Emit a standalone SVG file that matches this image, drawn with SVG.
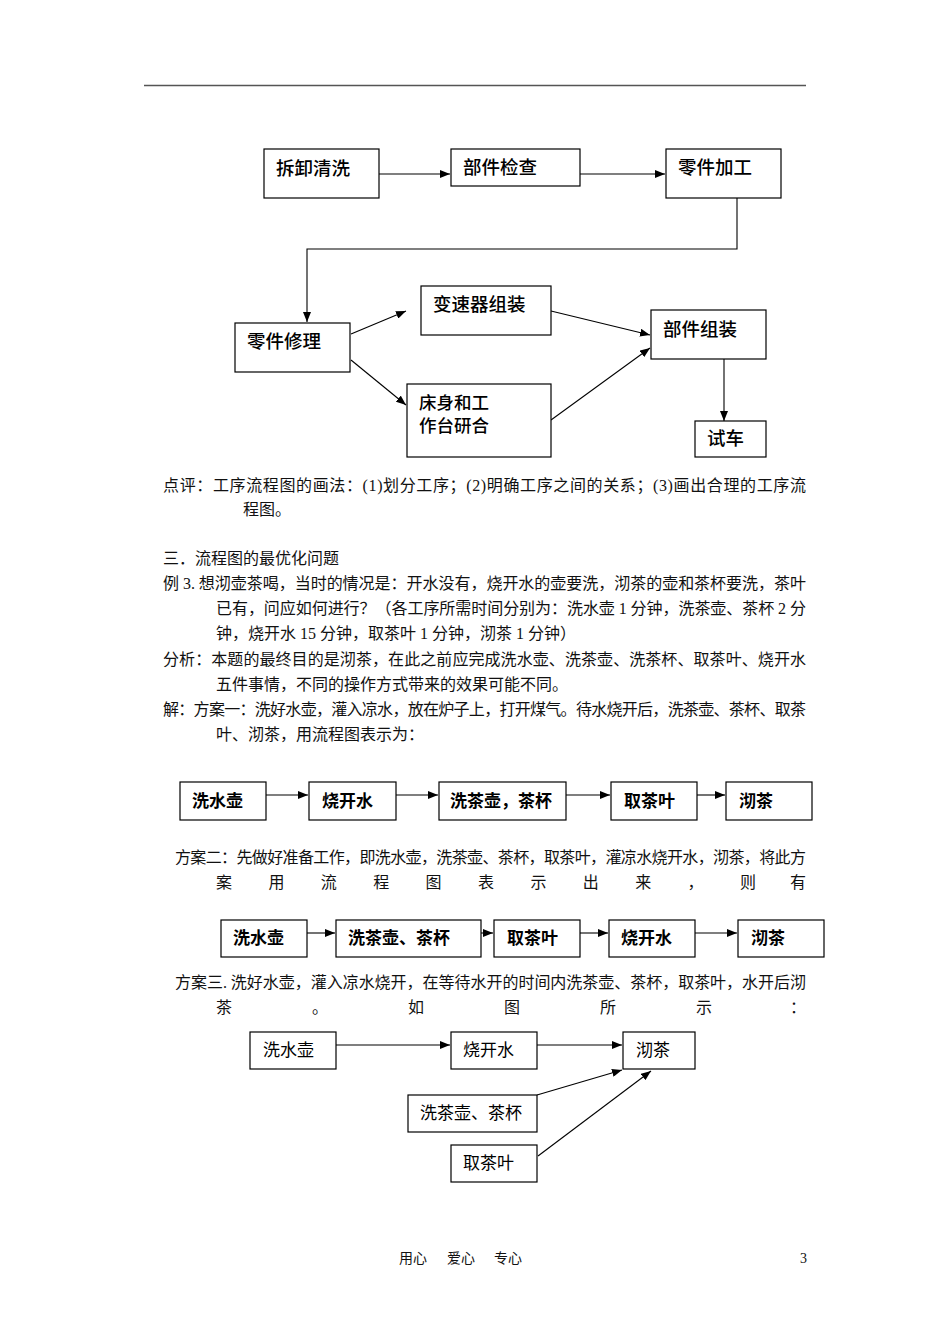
<svg xmlns="http://www.w3.org/2000/svg" width="950" height="1344" viewBox="0 0 950 1344">
<defs>
<style>
.bx{fill:#fff;stroke:#000;stroke-width:1.2}
.ln{fill:none;stroke:#000;stroke-width:1.1}
.t1{font-family:"Noto Sans CJK SC","Liberation Sans",sans-serif;font-size:18.5px;font-weight:500;fill:#000}
.t1s{font-family:"Noto Sans CJK SC","Liberation Sans",sans-serif;font-size:17.5px;font-weight:500;fill:#000}
.t2{font-family:"Noto Sans CJK SC","Liberation Sans",sans-serif;font-size:17px;font-weight:bold;fill:#000}
.t3{font-family:"Noto Sans CJK SC","Liberation Sans",sans-serif;font-size:17px;font-weight:normal;fill:#000}
.p{font-family:"Liberation Serif","Noto Sans CJK SC",serif;font-size:16px;fill:#111}
.f{font-family:"Liberation Serif","Noto Sans CJK SC",serif;font-size:14px;fill:#111}
</style>
<marker id="ah" markerWidth="10" markerHeight="8" refX="10" refY="4" orient="auto" markerUnits="userSpaceOnUse">
<path d="M0,0 L10,4 L0,8 z" fill="#000"/>
</marker>
</defs>
<rect width="950" height="1344" fill="#fff"/>
<line x1="144" y1="85.5" x2="806" y2="85.5" stroke="#555" stroke-width="1.6"/>

<!-- top diagram -->
<g id="connectors-top">
<line class="ln" x1="379" y1="174" x2="450" y2="174" marker-end="url(#ah)"/>
<line class="ln" x1="580" y1="174" x2="665" y2="174" marker-end="url(#ah)"/>
<polyline class="ln" points="737,198 737,249 307,249 307,322" marker-end="url(#ah)"/>
<line class="ln" x1="351" y1="334" x2="406" y2="311" marker-end="url(#ah)"/>
<line class="ln" x1="351" y1="360" x2="406" y2="405" marker-end="url(#ah)"/>
<line class="ln" x1="551" y1="311" x2="650" y2="335" marker-end="url(#ah)"/>
<line class="ln" x1="551" y1="420" x2="650" y2="348" marker-end="url(#ah)"/>
<line class="ln" x1="724" y1="359" x2="724" y2="421" marker-end="url(#ah)"/>
</g>
<g id="n-chaixie"><rect class="bx" x="264" y="149" width="115" height="49"/><text class="t1" x="276" y="175">拆卸清洗</text></g>
<g id="n-bujianjiancha"><rect class="bx" x="451" y="149" width="129" height="37"/><text class="t1" x="463" y="174">部件检查</text></g>
<g id="n-lingjianjiagong"><rect class="bx" x="666" y="149" width="115" height="49"/><text class="t1" x="678" y="174">零件加工</text></g>
<g id="n-lingjianxiuli"><rect class="bx" x="235" y="323" width="115" height="49"/><text class="t1" x="247" y="348">零件修理</text></g>
<g id="n-biansuqi"><rect class="bx" x="421" y="286" width="130" height="49"/><text class="t1" x="433" y="311">变速器组装</text></g>
<g id="n-chuangshen"><rect class="bx" x="407" y="384" width="144" height="73"/><text class="t1s" x="419" y="409">床身和工</text><text class="t1s" x="419" y="432">作台研合</text></g>
<g id="n-bujianzuzhuang"><rect class="bx" x="651" y="310" width="115" height="49"/><text class="t1" x="663" y="336">部件组装</text></g>
<g id="n-shiche"><rect class="bx" x="695" y="421" width="71" height="36"/><text class="t1" x="707" y="445">试车</text></g>

<!-- paragraphs -->
<g id="text">
<text class="p" x="163" y="491" textLength="643" lengthAdjust="spacing">点评：工序流程图的画法：(1)划分工序；(2)明确工序之间的关系；(3)画出合理的工序流</text>
<text class="p" x="243" y="515">程图。</text>
<text class="p" x="163" y="564">三．流程图的最优化问题</text>
<text class="p" x="163" y="589" textLength="643" lengthAdjust="spacing">例 3. 想沏壶茶喝，当时的情况是：开水没有，烧开水的壶要洗，沏茶的壶和茶杯要洗，茶叶</text>
<text class="p" x="216" y="614" textLength="590" lengthAdjust="spacing">已有，问应如何进行？（各工序所需时间分别为：洗水壶 1 分钟，洗茶壶、茶杯 2 分</text>
<text class="p" x="216" y="639">钟，烧开水 15 分钟，取茶叶 1 分钟，沏茶 1 分钟）</text>
<text class="p" x="163" y="665" textLength="643" lengthAdjust="spacing">分析：本题的最终目的是沏茶，在此之前应完成洗水壶、洗茶壶、洗茶杯、取茶叶、烧开水</text>
<text class="p" x="216" y="690">五件事情，不同的操作方式带来的效果可能不同。</text>
<text class="p" x="163" y="715" textLength="643" lengthAdjust="spacing">解：方案一：洗好水壶，灌入凉水，放在炉子上，打开煤气。待水烧开后，洗茶壶、茶杯、取茶</text>
<text class="p" x="216" y="740">叶、沏茶，用流程图表示为：</text>
<text class="p" x="175" y="863" textLength="631" lengthAdjust="spacing">方案二：先做好准备工作，即洗水壶，洗茶壶、茶杯，取茶叶，灌凉水烧开水，沏茶，将此方</text>
<text class="p" y="888"><tspan x="216">案</tspan><tspan x="268.4">用</tspan><tspan x="320.8">流</tspan><tspan x="373.2">程</tspan><tspan x="425.6">图</tspan><tspan x="478">表</tspan><tspan x="530.4">示</tspan><tspan x="582.8">出</tspan><tspan x="635.2">来</tspan><tspan x="687.6">，</tspan><tspan x="740">则</tspan><tspan x="790">有</tspan></text>
<text class="p" x="175" y="988" textLength="631" lengthAdjust="spacing">方案三. 洗好水壶，灌入凉水烧开，在等待水开的时间内洗茶壶、茶杯，取茶叶，水开后沏</text>
<text class="p" y="1013"><tspan x="216">茶</tspan><tspan x="312">。</tspan><tspan x="408">如</tspan><tspan x="504">图</tspan><tspan x="600">所</tspan><tspan x="696">示</tspan><tspan x="790">：</tspan></text>
</g>

<!-- flowchart 1 -->
<g id="connectors-fc1">
<line class="ln" x1="266" y1="795" x2="308" y2="795" marker-end="url(#ah)"/>
<line class="ln" x1="396" y1="795" x2="438" y2="795" marker-end="url(#ah)"/>
<line class="ln" x1="566" y1="795" x2="610" y2="795" marker-end="url(#ah)"/>
<line class="ln" x1="697" y1="795" x2="725" y2="795" marker-end="url(#ah)"/>
</g>
<g id="a1"><rect class="bx" x="180" y="782" width="86" height="38"/><text class="t2" x="192" y="807">洗水壶</text></g>
<g id="a2"><rect class="bx" x="309" y="782" width="87" height="38"/><text class="t2" x="322" y="807">烧开水</text></g>
<g id="a3"><rect class="bx" x="439" y="782" width="127" height="38"/><text class="t2" x="450" y="807">洗茶壶，茶杯</text></g>
<g id="a4"><rect class="bx" x="611" y="782" width="86" height="38"/><text class="t2" x="624" y="807">取茶叶</text></g>
<g id="a5"><rect class="bx" x="726" y="782" width="86" height="38"/><text class="t2" x="739" y="807">沏茶</text></g>

<!-- flowchart 2 -->
<g id="connectors-fc2">
<line class="ln" x1="307" y1="933" x2="335" y2="933" marker-end="url(#ah)"/>
<line class="ln" x1="481" y1="933" x2="493" y2="933" marker-end="url(#ah)"/>
<line class="ln" x1="580" y1="933" x2="608" y2="933" marker-end="url(#ah)"/>
<line class="ln" x1="695" y1="933" x2="737" y2="933" marker-end="url(#ah)"/>
</g>
<g id="b1"><rect class="bx" x="221" y="920" width="86" height="37"/><text class="t2" x="233" y="944">洗水壶</text></g>
<g id="b2"><rect class="bx" x="336" y="920" width="145" height="37"/><text class="t2" x="348" y="944">洗茶壶、茶杯</text></g>
<g id="b3"><rect class="bx" x="494" y="920" width="86" height="37"/><text class="t2" x="507" y="944">取茶叶</text></g>
<g id="b4"><rect class="bx" x="609" y="920" width="86" height="37"/><text class="t2" x="621" y="944">烧开水</text></g>
<g id="b5"><rect class="bx" x="738" y="920" width="86" height="37"/><text class="t2" x="751" y="944">沏茶</text></g>

<!-- flowchart 3 -->
<g id="connectors-fc3">
<line class="ln" x1="336" y1="1045" x2="450" y2="1045" marker-end="url(#ah)"/>
<line class="ln" x1="537" y1="1045" x2="622" y2="1045" marker-end="url(#ah)"/>
<line class="ln" x1="537" y1="1095" x2="622" y2="1070" marker-end="url(#ah)"/>
<line class="ln" x1="538" y1="1156" x2="651" y2="1071" marker-end="url(#ah)"/>
</g>
<g id="c1"><rect class="bx" x="250" y="1032" width="86" height="37"/><text class="t3" x="263" y="1056">洗水壶</text></g>
<g id="c2"><rect class="bx" x="451" y="1032" width="86" height="37"/><text class="t3" x="463" y="1056">烧开水</text></g>
<g id="c3"><rect class="bx" x="623" y="1032" width="72" height="37"/><text class="t3" x="636" y="1056">沏茶</text></g>
<g id="c4"><rect class="bx" x="408" y="1095" width="129" height="37"/><text class="t3" x="420" y="1119">洗茶壶、茶杯</text></g>
<g id="c5"><rect class="bx" x="451" y="1145" width="86" height="37"/><text class="t3" x="463" y="1169">取茶叶</text></g>

<!-- footer -->
<g id="footer">
<text class="f" x="399" y="1263">用心</text>
<text class="f" x="447" y="1263">爱心</text>
<text class="f" x="494" y="1263">专心</text>
<text class="f" x="800" y="1263">3</text>
</g>
</svg>
